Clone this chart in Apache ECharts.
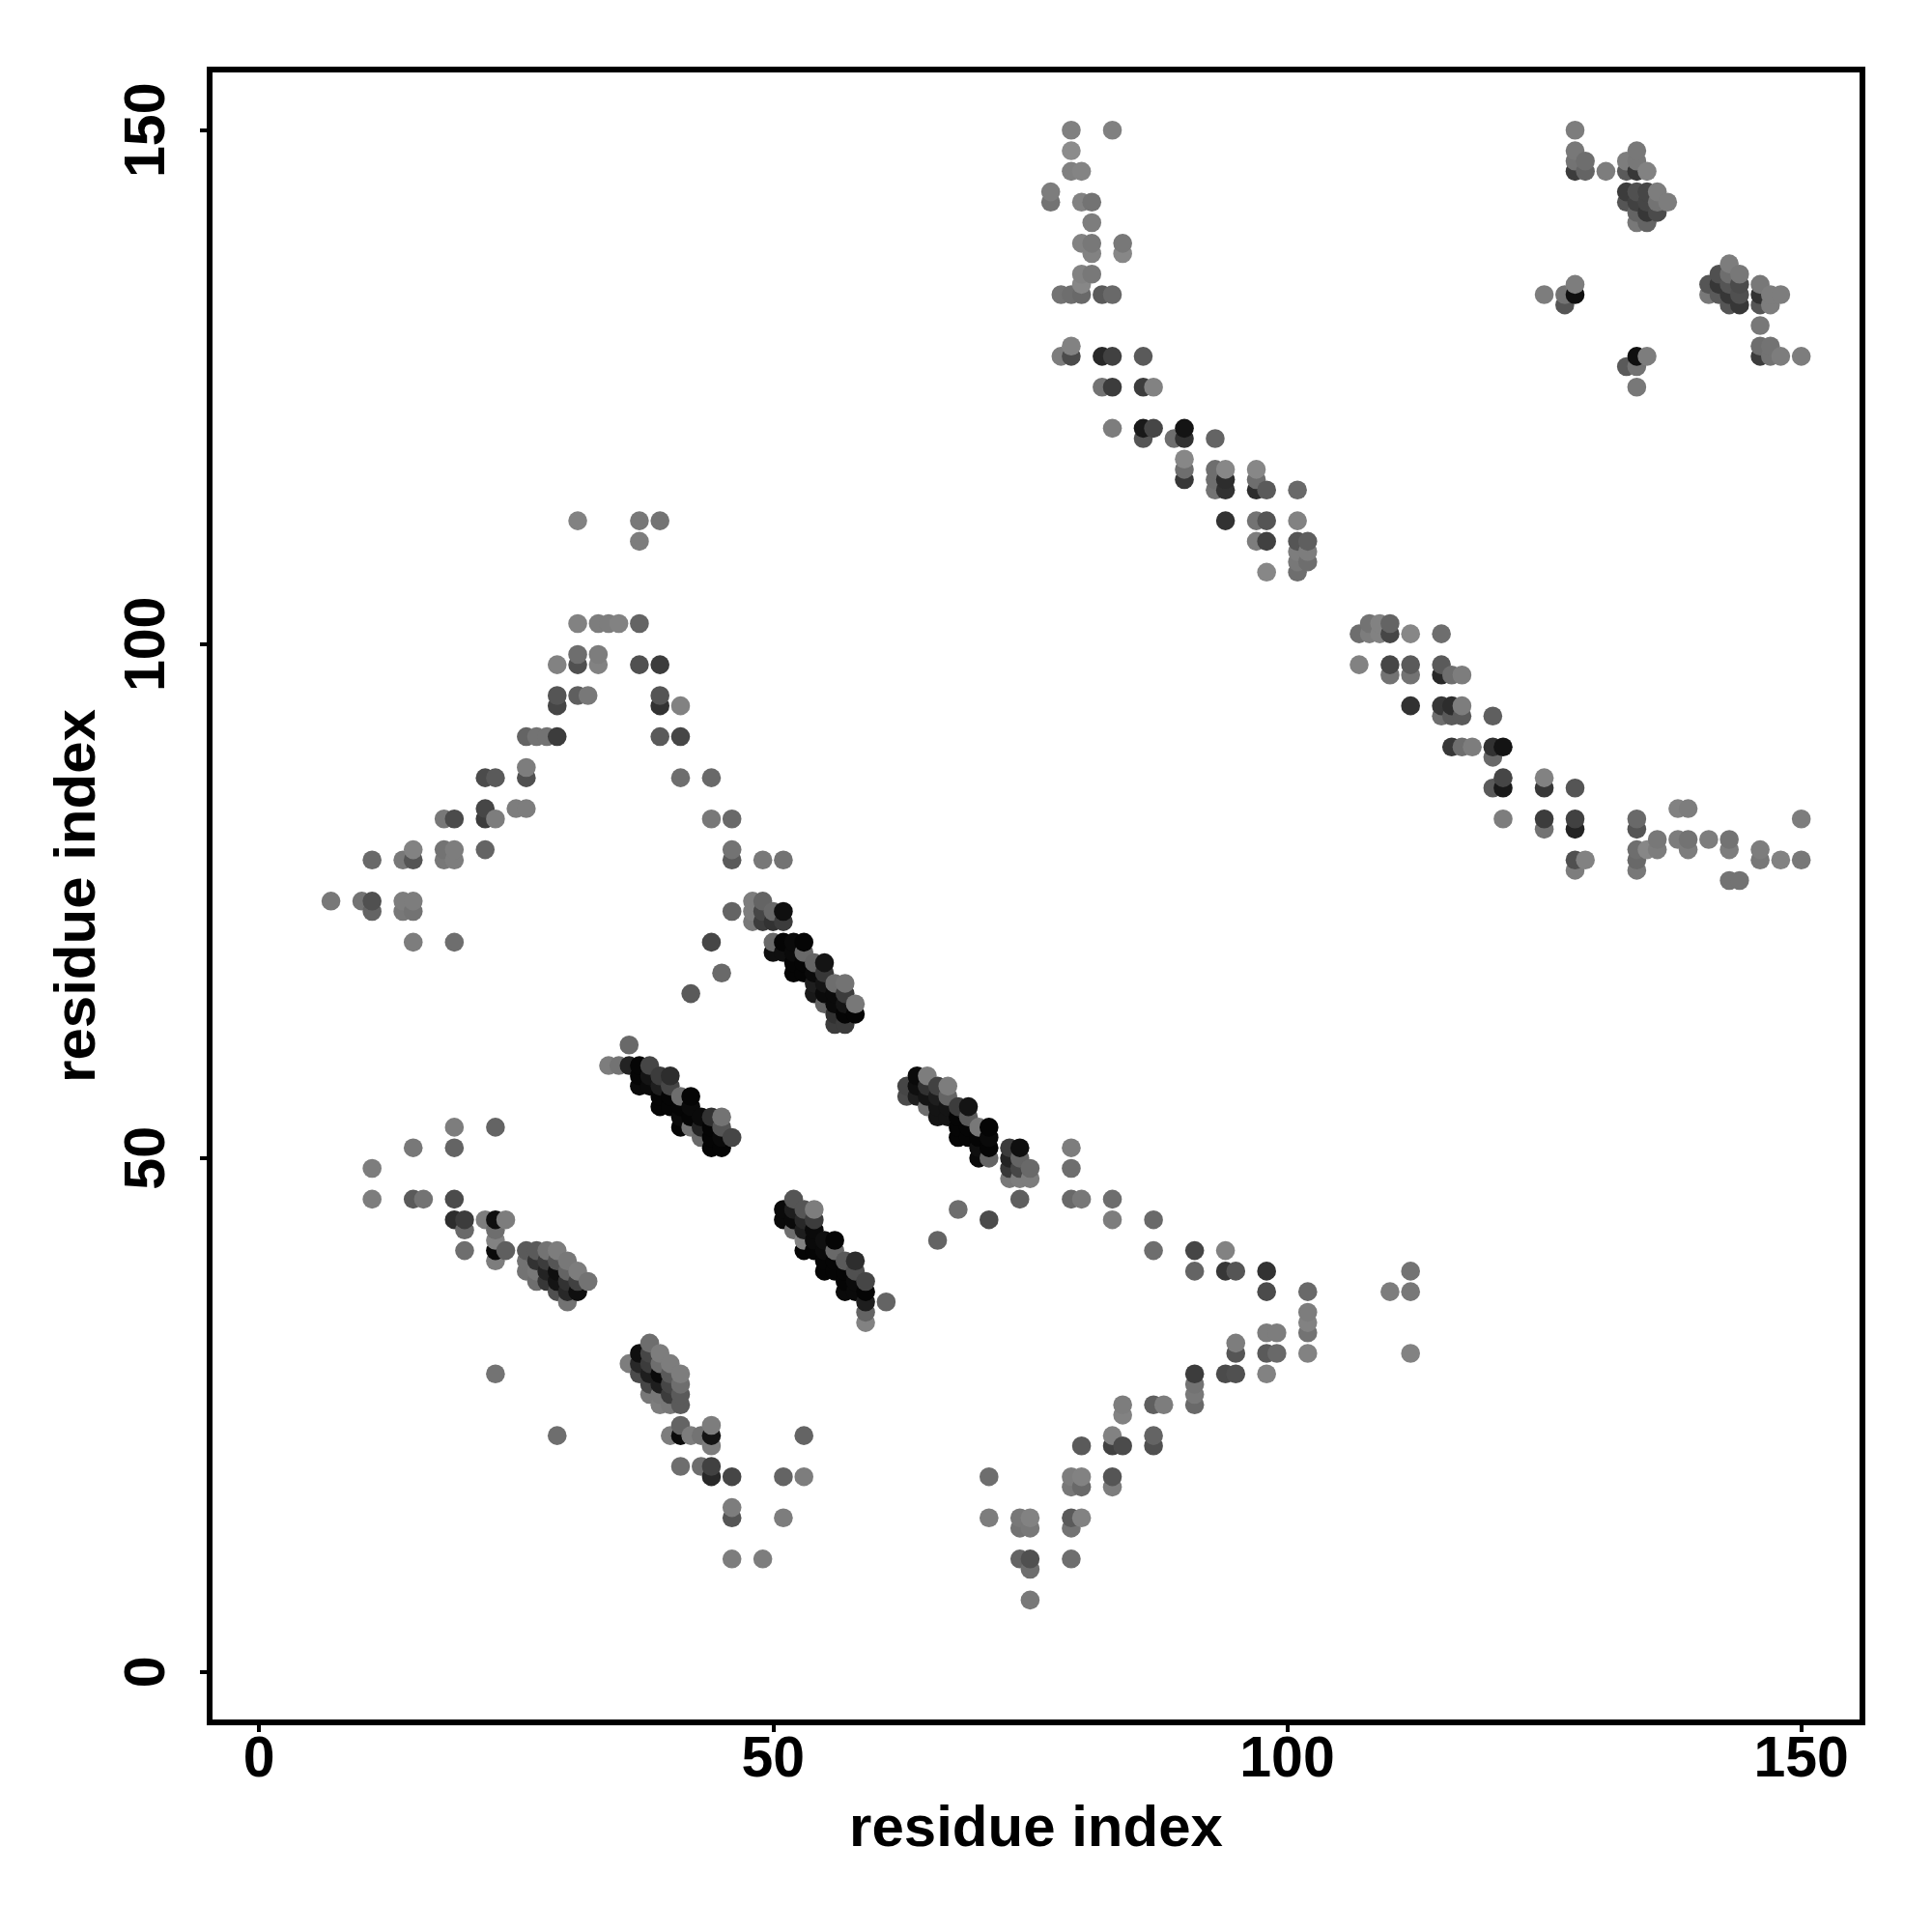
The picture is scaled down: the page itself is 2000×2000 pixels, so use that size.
<!DOCTYPE html>
<html><head><meta charset="utf-8">
<style>html,body{margin:0;padding:0;background:#fff}#c{width:2000px;height:2000px}</style>
<script src="https://cdn.jsdelivr.net/npm/echarts@6/dist/echarts.min.js"></script>
</head><body><div id="c"></div>
<script>
// Each contact: [residue x, residue y, grey level]
const tickValues = [0, 50, 100, 150];
const axisTitle = "residue index";

const upperStem = [
[79,150,128],[83,150,128],[79,148,140],[79,146,128],[80,146,132],[77,144,125],[77,143,115],[80,143,130],[81,143,115],[81,141,125],
[80,139,130],[81,139,120],[81,138,130],[84,139,120],[84,138,135],[80,136,130],[81,136,120],[80,135,135],
[78,134,115],[79,134,110],[80,134,105],[82,134,90],[83,134,105],
[78,128,125],[79,128,75],[79,129,130],[82,128,40],[83,128,65],[86,128,90],
[82,125,115],[83,125,60],[86,125,60],[87,125,130],
[83,121,125],[86,121,25],[87,121,70],[90,121,20],[86,120,85],[89,120,110],[90,120,50],[93,120,100],
[90,118,135],[90,117,110],[90,116,55],[93,117,110],[93,116,110],[93,115,115],[94,117,135],[94,116,45],[94,115,50],
[97,117,135],[97,116,110],[97,115,45],[98,115,90],[101,115,105],
[94,112,50],[97,112,115],[98,112,85],[101,112,130],[97,110,125],[98,110,65],[101,110,85],[102,110,95],
[101,109,125],[102,109,125],[101,108,120],[102,108,110],[98,107,135],[101,107,110]
];
const midDiagonal = [
[108,102,115],[109,102,130],[110,102,100],[107,101,110],[108,101,125],[109,101,130],[110,101,70],[112,101,135],[115,101,110],
[107,98,130],[110,98,70],[112,98,90],[115,98,90],[110,97,115],[112,97,115],[115,97,40],[116,97,110],[117,97,125],
[112,94,50],[115,94,55],[116,94,45],[117,94,125],[115,93,110],[116,93,90],[117,93,90],[120,93,95],
[116,90,55],[117,90,110],[118,90,125],[120,90,50],[121,90,20],[120,89,105],
[121,87,70],[120,86,90],[121,86,25],[125,87,130],[125,86,55],[128,86,85],
[121,83,125],[125,83,60],[128,83,65],[134,83,105],[150,83,125],[125,82,115],[128,82,35],[134,82,85],
[138,84,130],[139,84,125],[136,81,120],[138,81,125],[139,81,115],[141,81,125],[143,81,115],
[134,80,110],[135,80,135],[136,80,125],[139,80,125],[143,80,125],[146,80,125],
[128,79,80],[129,79,130],[134,79,105],[146,79,120],[148,79,130],[150,79,120],[128,78,125],[134,78,120],[143,77,115],[144,77,115]
];
const cornerBlocks = [
[128,150,125],[128,148,120],[128,147,115],[128,146,60],[129,147,110],[129,146,100],[131,146,125],
[134,148,120],[133,147,125],[134,147,120],[133,146,90],[134,146,55],[135,146,130],
[133,144,60],[134,144,80],[135,144,70],[136,144,125],[133,143,85],[134,143,65],[135,143,70],[136,143,115],[137,143,125],
[134,142,100],[135,142,55],[136,142,75],[134,141,120],[135,141,100],
[128,135,125],[128,134,15],[127,134,115],[125,134,125],[127,133,85],
[134,128,15],[135,128,125],[133,127,90],[134,127,115],[134,125,120],
[143,137,125],[142,136,80],[143,136,110],[144,136,120],[141,135,85],[142,135,55],[143,135,85],[144,135,75],
[141,134,120],[142,134,90],[143,134,55],[144,134,80],[143,133,85],[144,133,55],
[146,135,120],[146,134,50],[147,134,125],[148,134,125],[146,133,85],[147,133,125],[146,131,120],
[146,129,110],[147,129,115],[146,128,60],[147,128,115],[148,128,125],[150,128,125]
];
const leftPeak = [
[31,112,130],[37,112,120],[39,112,115],[37,110,125],[31,102,130],[33,102,125],[34,102,125],[35,102,130],[37,102,100],
[31,99,110],[33,99,125],[29,98,130],[31,98,80],[33,98,130],[37,98,80],[39,98,60],
[29,95,85],[31,95,95],[32,95,120],[39,95,85],[29,94,70],[39,94,50],[41,94,130],
[26,91,100],[27,91,115],[28,91,115],[29,91,60],[39,91,90],[41,91,70],
[26,88,125],[22,87,75],[23,87,90],[26,87,80],[41,87,110],[44,87,105],
[22,84,70],[25,84,125],[26,84,125],[18,83,120],[19,83,75],[22,83,60],[23,83,125],[44,83,120],[46,83,105],
[15,80,130],[18,80,115],[19,80,125],[22,80,100],[46,80,115],[11,79,105],[14,79,120],[15,79,85],[18,79,120],[19,79,125],[46,79,90],[49,79,120],[51,79,115],
[7,75,120],[10,75,115],[11,75,80],[14,75,125],[15,75,125],[11,74,100],[14,74,120],[15,74,115],[15,71,125],[19,71,110]
];
const helixA = [
[46,74,100],[44,71,70],[45,68,105],[42,66,90],
[48,75,125],[49,75,100],[48,74,125],[49,74,70],[50,74,105],[51,74,15],[48,73,120],[49,73,60],[50,73,50],[51,73,60],
[50,71,105],[51,71,5],[52,71,10],[53,71,5],[50,70,15],[51,70,15],[52,70,10],[53,70,105],
[52,69,5],[53,69,5],[54,69,100],[55,69,20],[52,68,5],[53,68,5],[54,68,10],[55,68,55],
[54,67,30],[55,67,20],[56,67,110],[57,67,115],[54,66,25],[55,66,10],[56,66,10],[57,66,60],
[55,65,100],[56,65,10],[57,65,20],[58,65,120],[56,64,50],[57,64,5],[58,64,5],[56,63,60],[57,63,60]
];
const helixB = [
[36,61,105],[34,59,125],[35,59,115],[36,59,35],[37,59,5],[38,59,70],[37,58,5],[38,58,20],[39,58,60],[40,58,45],
[37,57,10],[38,57,10],[39,57,30],[40,57,70],[39,56,5],[40,56,5],[41,56,110],[42,56,5],
[39,55,5],[40,55,5],[41,55,5],[42,55,10],[41,54,10],[42,54,5],[43,54,10],[44,54,50],[45,54,115],
[41,53,5],[42,53,115],[43,53,35],[44,53,5],[45,53,85],[43,52,105],[44,52,5],[45,52,10],[46,52,70],[44,51,5],[45,51,5]
];
const helixC = [
[64,58,10],[65,58,125],[63,57,70],[64,57,15],[65,57,50],[66,57,65],[67,57,125],[63,56,75],[64,56,30],[65,56,20],[66,56,30],[67,56,100],
[65,55,110],[66,55,20],[67,55,20],[68,55,60],[69,55,20],[66,54,20],[67,54,20],[68,54,5],[69,54,90],
[68,53,5],[69,53,5],[70,53,120],[71,53,5],[68,52,5],[69,52,5],[70,52,5],[71,52,10],
[70,51,15],[71,51,5],[73,51,60],[74,51,15],[70,50,10],[71,50,100],[73,50,35],[74,50,100],
[73,49,55],[74,49,70],[75,49,105],[73,48,120],[74,48,125],[75,48,125],[79,51,125],[79,49,110],[74,46,95],[79,46,105],[80,46,120]
];
const lowerRight = [
[83,46,110],[68,45,110],[71,44,75],[66,42,100],[83,44,125],[87,44,105],[87,41,110],[91,41,70],[94,41,130],
[91,39,100],[94,39,55],[95,39,85],[98,39,50],[112,39,115],[98,37,75],[102,37,105],[110,37,125],[112,37,120],
[102,35,125],[102,34,130],[102,33,115],[98,33,125],[99,33,125],[95,32,125],[95,31,85],[98,31,90],[99,31,105],[102,31,130],[112,31,130],
[91,29,60],[94,29,75],[95,29,80],[98,29,130],[91,28,115],[91,27,120],[91,26,105],[84,26,125],[84,25,130],[87,26,95],[88,26,125],
[83,23,130],[87,23,100],[80,22,90],[83,22,65],[84,22,75],[87,22,80],
[71,19,110],[79,19,125],[80,19,130],[83,19,85],[79,18,120],[80,18,105],[83,18,125],
[71,15,125],[74,15,120],[75,15,130],[79,15,90],[80,15,130],[74,14,115],[75,14,120],[79,14,115],
[74,11,100],[75,11,80],[79,11,110],[75,10,110],[75,7,120]
];
const helixD = [
[52,46,85],[51,45,10],[52,45,30],[53,45,85],[54,45,125],[51,44,10],[52,44,10],[53,44,40],[54,44,60],
[52,43,110],[53,43,30],[54,43,10],[53,42,130],[54,42,10],[55,42,15],[56,42,5],[53,41,5],[54,41,5],[55,41,10],[56,41,105],
[55,40,5],[56,40,5],[57,40,90],[58,40,45],[55,39,5],[56,39,5],[57,39,5],[58,39,80],
[57,38,5],[58,38,10],[59,38,70],[57,37,10],[58,37,10],[59,37,5],[59,36,30],[61,36,100],[59,35,100],[59,34,130]
];
const lowerLeft = [
[19,53,125],[23,53,100],[15,51,120],[19,51,100],[11,49,125],[11,46,125],[15,46,90],[16,46,115],[19,46,75],
[19,44,45],[20,44,60],[22,44,125],[23,44,15],[24,44,125],[20,43,105],[23,43,110],[23,42,130],
[20,41,110],[23,41,10],[24,41,95],[26,41,90],[27,41,90],[28,41,115],[29,41,125],
[23,40,125],[26,40,115],[27,40,50],[28,40,60],[29,40,85],[30,40,120],
[26,39,115],[27,39,120],[28,39,35],[29,39,15],[30,39,100],[31,39,125],
[27,38,110],[28,38,55],[29,38,20],[30,38,50],[31,38,65],[32,38,115],
[29,37,80],[30,37,40],[31,37,15],[30,36,115],[23,29,115]
];
const strandE = [
[38,32,110],[37,31,15],[38,31,70],[39,31,125],[36,30,125],[37,30,40],[38,30,60],[39,30,110],[40,30,125],
[37,29,75],[38,29,30],[39,29,10],[40,29,90],[41,29,125],[38,28,70],[39,28,30],[40,28,70],[41,28,110],
[38,27,120],[39,27,120],[40,27,60],[41,27,90],[39,26,125],[40,26,120],[41,26,90],
[41,24,100],[44,24,125],[29,23,110],[40,23,125],[41,23,10],[42,23,125],[43,23,115],[44,23,20],[53,23,100],[44,22,125],
[41,20,110],[43,20,110],[44,20,65],[44,19,40],[46,19,70],[51,19,100],[53,19,125],
[46,16,125],[46,15,85],[51,15,125],[46,11,125],[49,11,125]
];

const contacts = [].concat(upperStem, midDiagonal, cornerBlocks, leftPeak, helixA, helixB, helixC, lowerRight, helixD, lowerLeft, strandE)
  .sort((a, b) => a[0] - b[0] || a[1] - b[1]);

const font = "Liberation Sans";
const chart = echarts.init(document.getElementById('c'), null, {renderer: 'canvas'});
const axisCommon = {
  type: 'value', nameLocation: 'middle', name: axisTitle,
  nameTextStyle: {fontFamily: font, fontWeight: 'bold', fontSize: 60, color: '#000'},
  splitLine: {show: false},
  axisLine: {show: false, onZero: false},
  axisTick: {show: true, inside: false, length: 10, lineStyle: {color: '#000', width: 4}, customValues: tickValues},
};
chart.setOption({
  animation: false,
  backgroundColor: '#fff',
  grid: {show: true, left: 217, right: 72, top: 72, bottom: 217, borderColor: '#000', borderWidth: 6, backgroundColor: 'transparent'},
  xAxis: Object.assign({}, axisCommon, {
    min: -4.8, max: 155.95, nameGap: 81,
    axisLabel: {fontFamily: font, fontWeight: 'bold', fontSize: 59, color: '#000', margin: 10, customValues: tickValues}
  }),
  yAxis: Object.assign({}, axisCommon, {
    min: -4.9, max: 155.9, nameGap: 106,
    axisLabel: {fontFamily: font, fontWeight: 'bold', fontSize: 59, color: '#000', margin: 34, rotate: 90, customValues: tickValues}
  }),
  series: [{
    type: 'scatter', data: contacts, symbol: 'circle', symbolSize: 19.6,
    progressive: 0, large: false, silent: true, clip: false,
    itemStyle: {opacity: 1, color: p => { const g = p.data[2]; return 'rgb(' + g + ',' + g + ',' + g + ')'; }}
  }]
});
</script></body></html>
